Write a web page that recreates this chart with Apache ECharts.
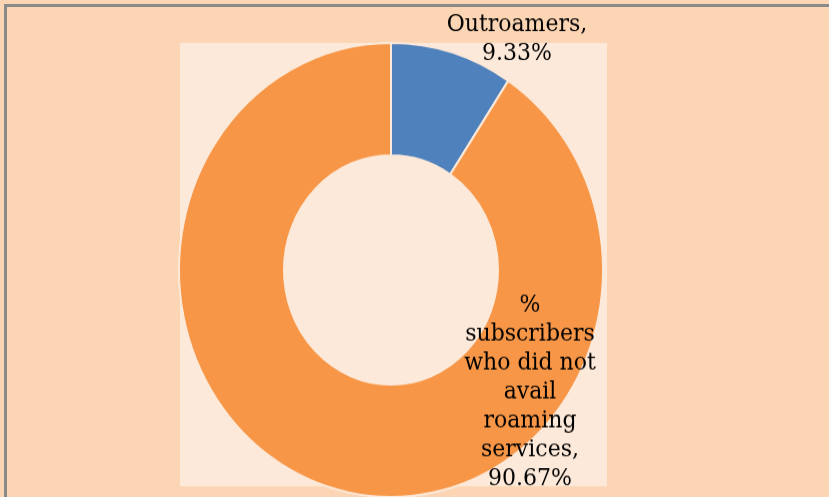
<!DOCTYPE html>
<html>
<head>
<meta charset="utf-8">
<script src="https://cdn.jsdelivr.net/npm/echarts@6/dist/echarts.min.js"></script>
<style>
  html, body { margin: 0; padding: 0; width: 829px; height: 497px; overflow: hidden; background: #FCD5B4; }
  #wrap { position: absolute; left: 0; top: 0; width: 829px; height: 464px; transform: scaleY(1.0711); transform-origin: 0 0; }
  #chart { width: 829px; height: 464px; }
  #frame { position: absolute; left: 4px; top: 4px; width: 830px; height: 500px; border-top: 3px solid #8a8a8a; border-left: 3px solid #8a8a8a; pointer-events: none; }
</style>
</head>
<body>
<div id="wrap"><div id="chart"></div></div>
<div id="frame"></div>
<script>
// Data
const categories = ['Outroamers', '%\nsubscribers\nwho did not\navail\nroaming\nservices'];
const values = [9.33, 90.67];
const colors = ['#4F81BD', '#F79646'];

const chart = echarts.init(document.getElementById('chart'), null, { renderer: 'canvas' });

const labelPos = [
  { x: 517, y: 37 },
  { x: 530, y: 366 }
];

const option = {
  backgroundColor: '#FCD5B4',
  animation: false,
  graphic: [
    {
      type: 'rect',
      z: -10,
      silent: true,
      shape: { x: 180, y: 40, width: 427, height: 414 },
      style: { fill: '#FDE9D9' }
    }
  ],
  series: [
    {
      type: 'pie',
      center: [391, 252],
      radius: [107, 212],
      startAngle: 90,
      clockwise: true,
      silent: true,
      itemStyle: { borderColor: '#FDE9D9', borderWidth: 2 },
      labelLine: { show: false },
      label: {
        show: true,
        position: 'outside',
        fontFamily: 'DejaVu Serif',
        fontSize: 22,
        lineHeight: 27,
        color: '#000',
        align: 'center',
        formatter: function (p) {
          return p.name + ',\n' + p.value.toFixed(2) + '%';
        }
      },
      labelLayout: function (params) {
        const pos = labelPos[params.dataIndex];
        return { x: pos.x, y: pos.y, align: 'center', verticalAlign: 'middle' };
      },
      data: categories.map(function (c, i) {
        return { name: c, value: values[i], itemStyle: { color: colors[i] } };
      })
    }
  ]
};
chart.setOption(option);
</script>
</body>
</html>
